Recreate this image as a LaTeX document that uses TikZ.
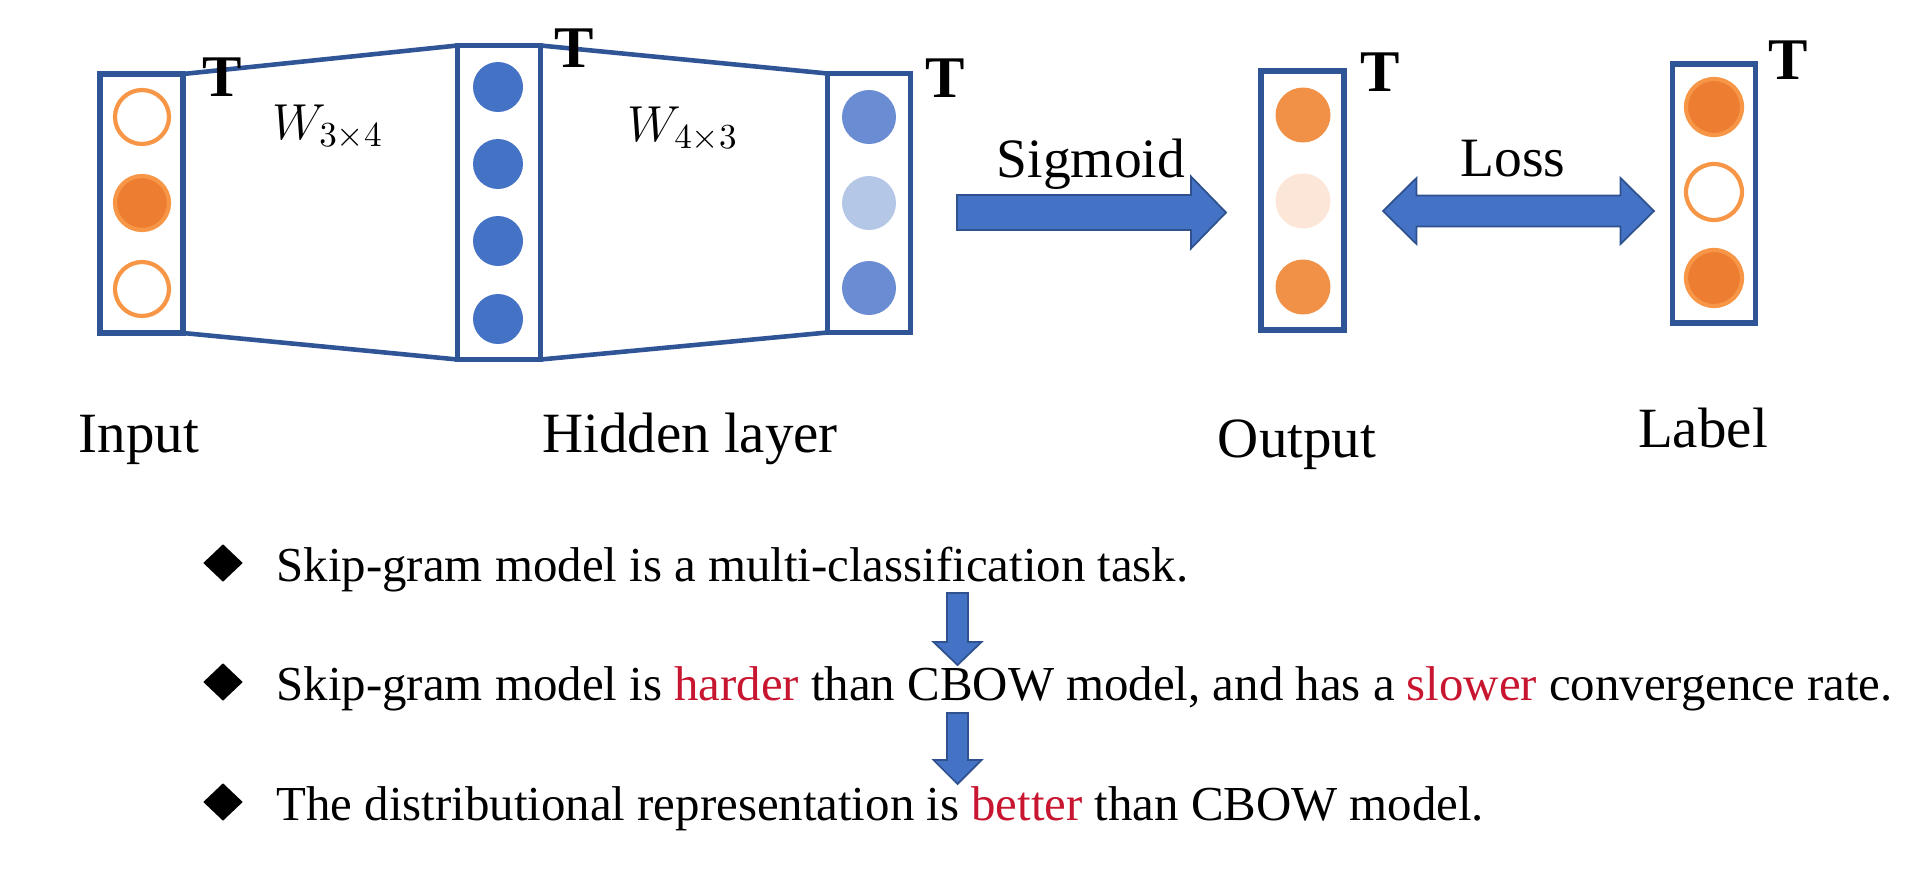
\documentclass[tikz,border=0pt]{standalone}
\usepackage{fontspec}
\setmainfont{Liberation Serif}
\usetikzlibrary{positioning,calc,shapes.geometric}
\definecolor{boxblue}{HTML}{2F5597}
\definecolor{nodeblue}{HTML}{4472C4}
\definecolor{lightnode}{HTML}{6A8CD2}
\definecolor{palenode}{HTML}{B4C7E7}
\definecolor{arrowedge}{HTML}{2F528F}
\definecolor{orangefill}{HTML}{ED7D31}
\definecolor{orangering}{HTML}{F79646}
\definecolor{outorange}{HTML}{F09147}
\definecolor{outpale}{HTML}{FCE6D8}
\definecolor{wordred}{RGB}{200,22,48}

\begin{document}
\begin{tikzpicture}[
    layerbox/.style={draw=boxblue, line width=1.6pt, minimum width=0.83cm, minimum height=2.59cm, inner sep=0pt, outer sep=0pt},
    boxline/.style={boxblue, line width=1.3pt},
    ring/.style={orangering, line width=1.2pt},
    tmark/.style={inner sep=0pt, font=\fontsize{16.8}{18}\selectfont\bfseries},
    layername/.style={anchor=base, inner sep=0pt, font=\fontsize{16.2}{18}\selectfont},
    arrowname/.style={anchor=base, inner sep=0pt, font=\fontsize{15.8}{18}\selectfont},
    weightname/.style={inner sep=0pt, font=\fontsize{13.7}{16}\selectfont},
    blockarrow/.style={fill=nodeblue, draw=arrowedge, line width=0.5pt},
    bullettext/.style={anchor=base west, inner sep=0pt, font=\fontsize{13.9}{16}\selectfont},
    bulletmark/.style={diamond, fill=black, minimum width=0.40cm, minimum height=0.38cm, inner sep=0pt}
]
    \useasboundingbox (0,0) rectangle (19.10,8.85);

    % layers
    \node[layerbox] (inbox) at (1.415,6.815) {};
    \node[layerbox, minimum height=3.14cm] (hidbox) at (4.99,6.825) {};
    \node[layerbox] (projbox) at (8.69,6.82) {};
    \node[layerbox] (outbox) at (13.025,6.845) {};
    \node[layerbox] (labbox) at (17.14,6.915) {};

    \draw[boxline] (inbox.north east) -- (hidbox.north west);
    \draw[boxline] (inbox.south east) -- (hidbox.south west);
    \draw[boxline] (hidbox.north east) -- (projbox.north west);
    \draw[boxline] (hidbox.south east) -- (projbox.south west);

    % units
    \draw[ring] (1.42,7.68) circle (0.27);
    \filldraw[ring, fill=orangefill] (1.42,6.82) circle (0.27);
    \draw[ring] (1.42,5.96) circle (0.27);

    \foreach \y in {7.98,7.21,6.44,5.66}
        \fill[nodeblue] (4.98,\y) circle (0.25);

    \fill[lightnode] (8.69,7.68) circle (0.27);
    \fill[palenode] (8.69,6.82) circle (0.27);
    \fill[lightnode] (8.69,5.97) circle (0.27);

    \fill[outorange] (13.03,7.70) circle (0.275);
    \fill[outpale] (13.03,6.84) circle (0.275);
    \fill[outorange] (13.03,5.98) circle (0.275);

    \filldraw[ring, fill=orangefill] (17.14,7.78) circle (0.28);
    \draw[ring] (17.14,6.93) circle (0.28);
    \filldraw[ring, fill=orangefill] (17.14,6.07) circle (0.28);

    % transpose marks
    \node[tmark] (tin) at (2.22,8.08) {T};
    \node[tmark] (thid) at (5.74,8.37) {T};
    \node[tmark] (tproj) at (9.45,8.07) {T};
    \node[tmark] (tout) at (13.80,8.13) {T};
    \node[tmark] (tlab) at (17.88,8.25) {T};

    \node[weightname] (win) at (3.28,7.58) {$W_{3\times4}$};
    \node[weightname] (wout) at (6.83,7.56) {$W_{4\times3}$};

    % block arrows
    \coordinate (sigstart) at (9.57,6.725);
    \coordinate (sigtip) at (12.26,6.725);
    \filldraw[blockarrow] ($(sigstart)+(0,0.175)$) -- ($(sigtip)+(-0.35,0.175)$) -- ($(sigtip)+(-0.35,0.36)$)
        -- (sigtip) -- ($(sigtip)+(-0.35,-0.36)$) -- ($(sigtip)+(-0.35,-0.175)$) -- ($(sigstart)+(0,-0.175)$) -- cycle;
    \node[arrowname] (sigword) at (10.91,7.08) {Sigmoid};

    \coordinate (lossleft) at (13.83,6.74);
    \coordinate (lossright) at (16.54,6.74);
    \filldraw[blockarrow] (lossleft) -- ($(lossleft)+(0.335,0.33)$) -- ($(lossleft)+(0.335,0.155)$)
        -- ($(lossright)+(-0.335,0.155)$) -- ($(lossright)+(-0.335,0.33)$) -- (lossright)
        -- ($(lossright)+(-0.335,-0.33)$) -- ($(lossright)+(-0.335,-0.155)$)
        -- ($(lossleft)+(0.335,-0.155)$) -- ($(lossleft)+(0.335,-0.33)$) -- cycle;
    \node[arrowname] (lossword) at (15.13,7.09) {Loss};

    \node[layername] (inname) at (1.39,4.33) {Input};
    \node[layername] (hidname) at (6.90,4.33) {Hidden layer};
    \node[layername] (outname) at (12.97,4.28) {Output};
    \node[layername] (labname) at (17.03,4.38) {Label};

    % remarks
    \node[bulletmark] (mark1) at (2.23,3.22) {};
    \node[bullettext] (row1) at (2.76,3.04) {Skip-gram model is a multi-classification task.};
    \node[bulletmark] (mark2) at (2.23,2.03) {};
    \node[bullettext] (row2) at (2.76,1.85) {Skip-gram model is \textcolor{wordred}{harder} than CBOW model, and has a \textcolor{wordred}{slower} convergence rate.};
    \node[bulletmark] (mark3) at (2.23,0.83) {};
    \node[bullettext] (row3) at (2.76,0.65) {The distributional representation is \textcolor{wordred}{better} than CBOW model.};

    \coordinate (downtop1) at (9.575,2.92);
    \coordinate (downtip1) at (9.575,2.20);
    \filldraw[blockarrow] ($(downtop1)+(-0.105,0)$) -- ($(downtip1)+(-0.105,0.23)$) -- ($(downtip1)+(-0.24,0.23)$)
        -- (downtip1) -- ($(downtip1)+(0.24,0.23)$) -- ($(downtip1)+(0.105,0.23)$) -- ($(downtop1)+(0.105,0)$) -- cycle;
    \coordinate (downtop2) at (9.575,1.72);
    \coordinate (downtip2) at (9.575,1.01);
    \filldraw[blockarrow] ($(downtop2)+(-0.105,0)$) -- ($(downtip2)+(-0.105,0.24)$) -- ($(downtip2)+(-0.24,0.24)$)
        -- (downtip2) -- ($(downtip2)+(0.24,0.24)$) -- ($(downtip2)+(0.105,0.24)$) -- ($(downtop2)+(0.105,0)$) -- cycle;
\end{tikzpicture}
\end{document}
